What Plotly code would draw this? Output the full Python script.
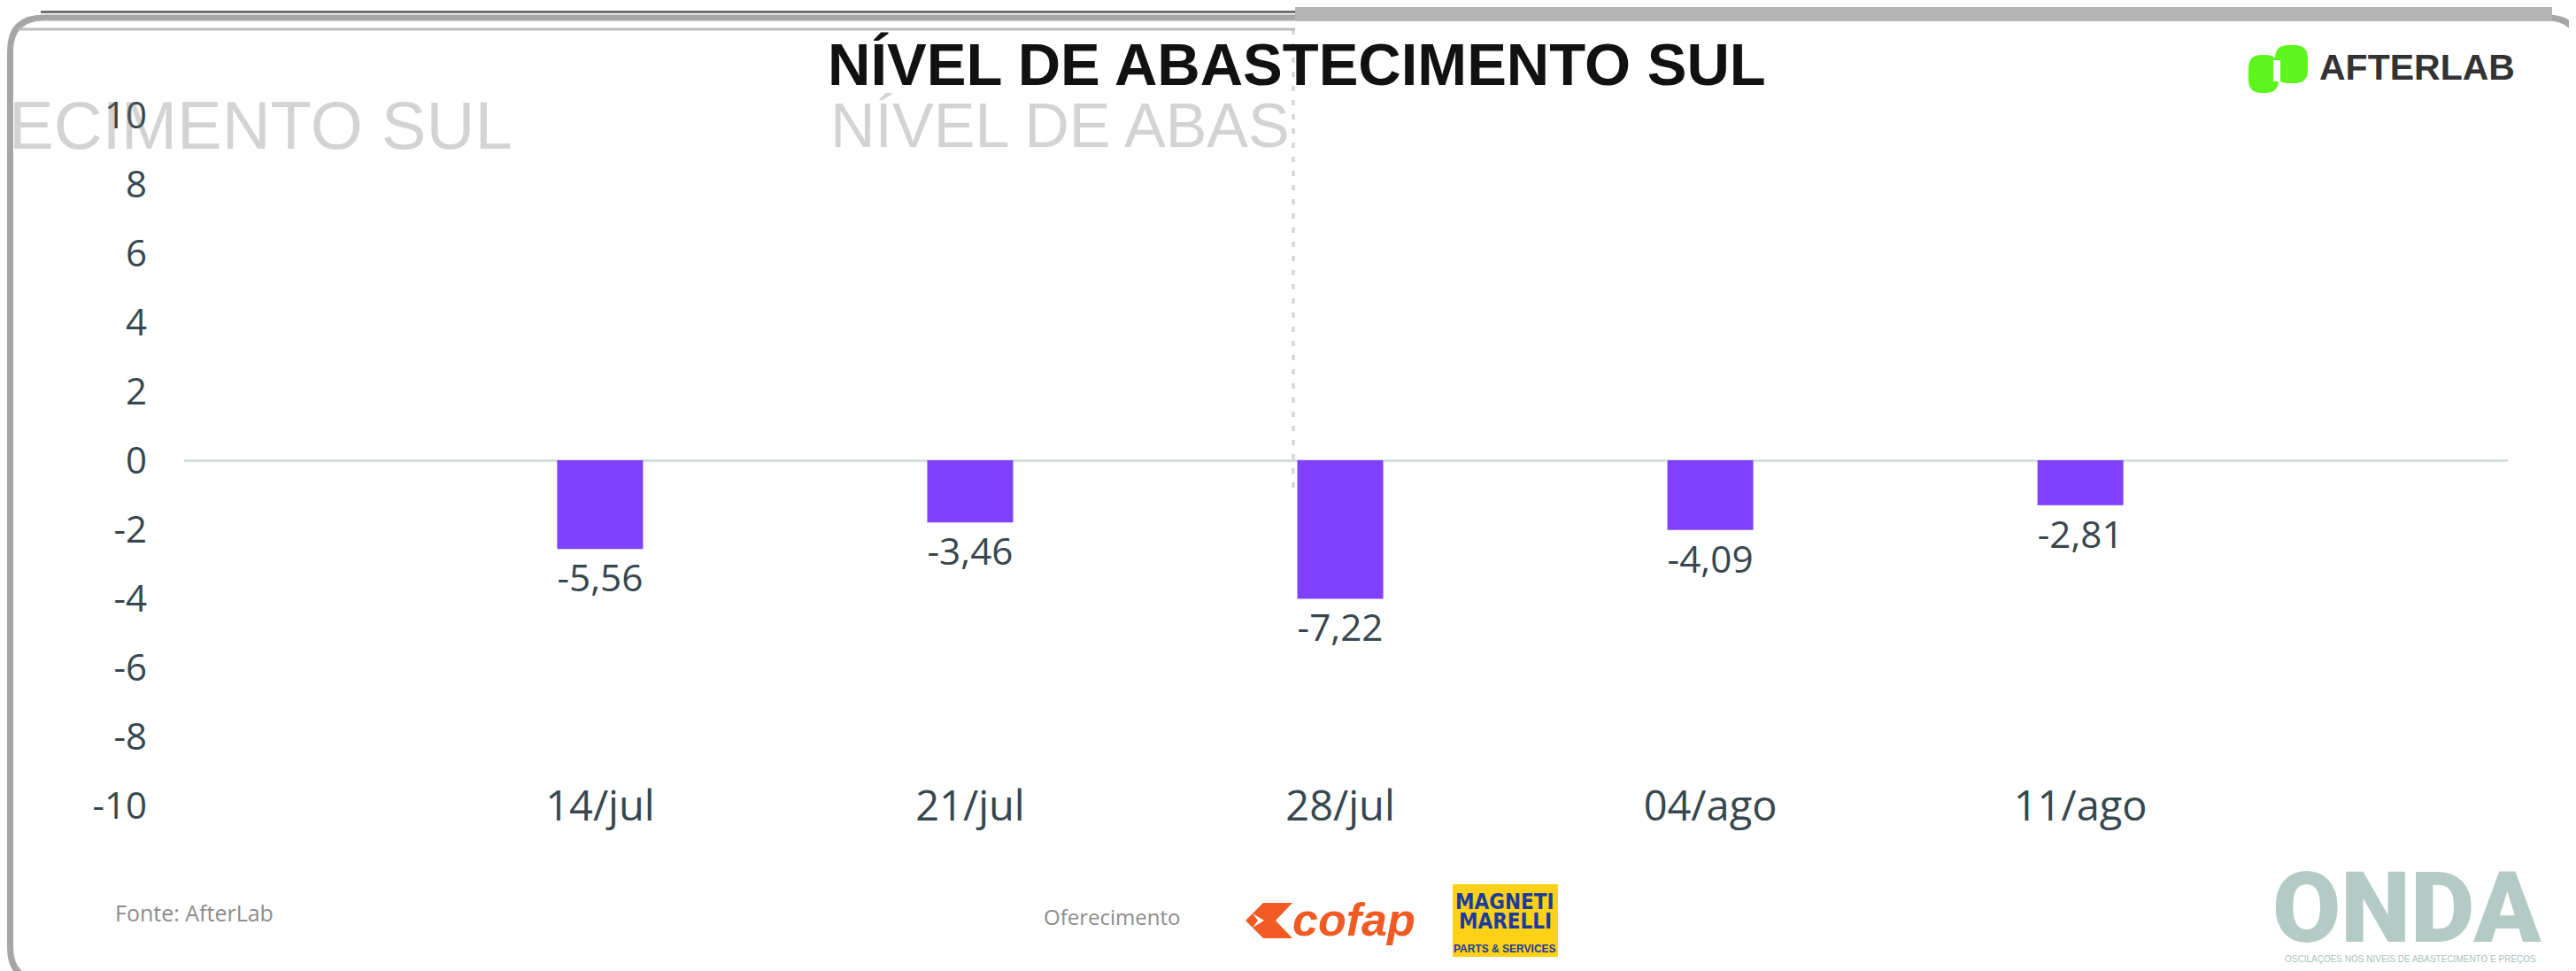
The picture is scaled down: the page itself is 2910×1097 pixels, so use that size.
import plotly.graph_objects as go

# ---------------- data ----------------
categories = ["14/jul", "21/jul", "28/jul", "04/ago", "11/ago"]
bar_values = [-2.57, -1.80, -4.01, -2.02, -1.30]          # bar ends as read on the axis
value_labels = ["-5,56", "-3,46", "-7,22", "-4,09", "-2,81"]  # data labels printed on the chart
y_ticks = [-10, -8, -6, -4, -2, 0, 2, 4, 6, 8, 10]

TITLE = "NÍVEL DE ABASTECIMENTO SUL"
SOURCE = "Fonte: AfterLab"
SPONSOR = "Oferecimento"

# ---------------- layout geometry ----------------
W, H = 2910, 1097
L, R, T, B = 200, 2825, 122, 902  # plot area in pixels


def px(x):
    return (x - L) / (R - L)


def py(y):
    return (B - y) / (B - T)


def rounded_path(x0, y0, x1, y1, r):
    rx, ry = r / (R - L), r / (B - T)
    return (f"M {px(x0)+rx},{py(y0)} L {px(x1)-rx},{py(y0)} Q {px(x1)},{py(y0)} {px(x1)},{py(y0)-ry} "
            f"L {px(x1)},{py(y1)+ry} Q {px(x1)},{py(y1)} {px(x1)-rx},{py(y1)} "
            f"L {px(x0)+rx},{py(y1)} Q {px(x0)},{py(y1)} {px(x0)},{py(y1)+ry} "
            f"L {px(x0)},{py(y0)-ry} Q {px(x0)},{py(y0)} {px(x0)+rx},{py(y0)} Z")


TXT = "#37474F"
BAR = "#8040FF"

fig = go.Figure()
fig.add_trace(go.Bar(
    x=categories, y=bar_values, width=0.232,
    marker=dict(color=BAR, line=dict(width=0)),
    text=value_labels, textposition="outside", cliponaxis=False,
    textfont=dict(family="Open Sans, Noto Sans, sans-serif", size=48, color=TXT),
    hoverinfo="skip",
))

shapes = []
annotations = []

# frame (rounded border)
shapes.append(dict(type="path", xref="paper", yref="paper", path=rounded_path(3.5, 12, 2906.5, 1100, 38),
                   line=dict(color="#A6A6A6", width=7), fillcolor="rgba(0,0,0,0)", layer="above"))
# glitchy top bands
shapes.append(dict(type="rect", xref="paper", yref="paper", x0=px(1455), x1=px(2875), y0=py(0), y1=py(16),
                   line=dict(width=0), fillcolor="#B4B4B4", layer="above"))
shapes.append(dict(type="line", xref="paper", yref="paper", x0=px(38), x1=px(1455), y0=py(5.5), y1=py(5.5),
                   line=dict(color="#707070", width=3), layer="above"))
shapes.append(dict(type="line", xref="paper", yref="paper", x0=px(12), x1=px(1455), y0=py(25), y1=py(25),
                   line=dict(color="#BDBDBD", width=3), layer="above"))
# dashed vertical guide
shapes.append(dict(type="line", xref="paper", yref="paper", x0=px(1453), x1=px(1453), y0=py(25), y1=py(543),
                   line=dict(color="#D9D9D9", width=4, dash="6px,10px"), layer="below"))

# AFTERLAB logo (green mark, two rounded halves)
shapes.append(dict(type="path", xref="paper", yref="paper", path=rounded_path(2532, 54, 2566, 97, 15),
                   line=dict(width=0), fillcolor="#5CF51C", layer="above"))
shapes.append(dict(type="path", xref="paper", yref="paper", path=rounded_path(2562, 43, 2599, 86, 15),
                   line=dict(width=0), fillcolor="#5CF51C", layer="above"))
shapes.append(dict(type="rect", xref="paper", yref="paper", x0=px(2560), x1=px(2568), y0=py(60), y1=py(84),
                   line=dict(width=0), fillcolor="white", layer="above"))

# cofap mark
cpath = (f"M {px(1399)},{py(1032)} L {px(1419)},{py(1012)} L {px(1452)},{py(1012)} L {px(1433)},{py(1032)} "
         f"L {px(1452)},{py(1052)} L {px(1419)},{py(1052)} Z")
shapes.append(dict(type="path", xref="paper", yref="paper", path=cpath,
                   line=dict(width=0), fillcolor="#F15A22", layer="above"))
npath = f"M {px(1407)},{py(1024)} L {px(1420)},{py(1032)} L {px(1407)},{py(1040)} L {px(1413)},{py(1032)} Z"
shapes.append(dict(type="path", xref="paper", yref="paper", path=npath,
                   line=dict(width=0), fillcolor="white", layer="above"))
# Magneti Marelli box
shapes.append(dict(type="rect", xref="paper", yref="paper", x0=px(1633), x1=px(1752), y0=py(991), y1=py(1073),
                   line=dict(width=0), fillcolor="#FCD116", layer="above"))


def ann(text, x, y, size, color, family, xanchor="center", yanchor="middle", **fontkw):
    annotations.append(dict(text=text, x=px(x), y=py(y), xref="paper", yref="paper",
                            xanchor=xanchor, yanchor=yanchor, showarrow=False,
                            font=dict(size=size, color=color, family=family, **fontkw)))


# ghost (glitched) copies of the title, semi-transparent so the "10" tick shows through
GHOST = "rgba(110,110,110,0.30)"
ann("ECIMENTO SUL", 0, 134, 76, GHOST, "Liberation Sans, Arial, sans-serif", xanchor="left")
ann("NÍVEL DE ABAS", 928, 134, 70, GHOST, "Liberation Sans, Arial, sans-serif", xanchor="left")

ann(TITLE, 1457, 64, 67, "#111111", "Liberation Sans, Arial, sans-serif", weight="bold")
ann("AFTERLAB", 2610, 68, 41, "#333333", "Liberation Sans, Arial, sans-serif", xanchor="left", weight="bold")
ann(SOURCE, 120, 1023, 25, "#8C8C8C", "Open Sans, sans-serif", xanchor="left")
ann(SPONSOR, 1169, 1027, 24, "#8C8C8C", "Open Sans, sans-serif", xanchor="left")
ann("cofap", 1450, 1031, 52, "#F15A22", "Liberation Sans, Arial, sans-serif", xanchor="left",
    weight="bold", style="italic")
ann("MAGNETI", 1692, 1011, 24, "#1B3C9C", "Liberation Sans Narrow, DejaVu Sans Condensed, sans-serif", weight="bold")
ann("MARELLI", 1692, 1033, 24, "#1B3C9C", "Liberation Sans Narrow, DejaVu Sans Condensed, sans-serif", weight="bold")
ann("PARTS &amp; SERVICES", 1692, 1064, 12, "#1B3C9C", "Liberation Sans, Arial, sans-serif", weight="bold")
ann("ONDA", 2711, 1018, 112, "#B3CAC5", "Roboto, sans-serif", weight=900)
ann("OSCILAÇOES NOS NIVEIS DE ABASTECIMENTO E PREÇOS", 2715, 1075, 10, "#A9C2BD",
    "Liberation Sans, Arial, sans-serif")

fig.update_layout(
    width=W, height=H,
    margin=dict(l=L, r=W - R, t=T, b=H - B, pad=0),
    paper_bgcolor="white", plot_bgcolor="white",
    showlegend=False,
    bargap=0.5,
    shapes=shapes, annotations=annotations,
    xaxis=dict(
        type="category", range=[-1.124, 5.155],
        showgrid=False, zeroline=False, showline=False, ticks="",
        tickfont=dict(family="Open Sans, Noto Sans, sans-serif", size=47, color=TXT),
        ticklabelstandoff=-31,
    ),
    yaxis=dict(
        range=[-10, 10], tickvals=y_ticks, ticktext=[str(v) for v in y_ticks],
        showgrid=False, showline=False, ticks="",
        zeroline=True, zerolinecolor="#D6DEDE", zerolinewidth=3,
        tickfont=dict(family="Open Sans, Noto Sans, sans-serif", size=42, color=TXT),
        ticklabelstandoff=41,
    ),
)

fig.write_html("out.html")
